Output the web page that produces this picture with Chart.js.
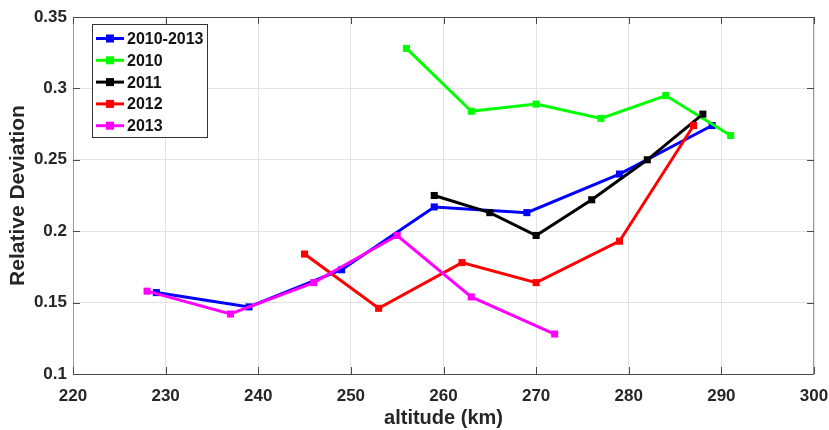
<!DOCTYPE html>
<html>
<head>
<meta charset="utf-8">
<script src="https://cdn.jsdelivr.net/npm/chart.js@4.4.1/dist/chart.umd.min.js"></script>
<style>
  html, body { margin: 0; padding: 0; background: #fff; }
  #wrap { width: 829px; height: 430px; }
</style>
</head>
<body>
<div id="wrap"><canvas id="devChart" width="829" height="430"></canvas></div>
<script>
// series names
const seriesNames = ['2010-2013', '2010', '2011', '2012', '2013'];
const seriesColors = ['#0000ff', '#00ff00', '#000000', '#ff0000', '#ff00ff'];

// altitude (km) / relative deviation per series
const allAlt = [229, 239, 249, 259, 269, 279, 289];
const allDev = [0.157, 0.147, 0.173, 0.217, 0.213, 0.240, 0.274];
const alt2010 = [256, 263, 270, 277, 284, 291];
const dev2010 = [0.328, 0.284, 0.289, 0.279, 0.295, 0.267];
const alt2011 = [259, 265, 270, 276, 282, 288];
const dev2011 = [0.225, 0.213, 0.197, 0.222, 0.250, 0.282];
const alt2012 = [245, 253, 262, 270, 279, 287];
const dev2012 = [0.184, 0.146, 0.178, 0.164, 0.193, 0.274];
const alt2013 = [228, 237, 246, 255, 263, 272];
const dev2013 = [0.158, 0.142, 0.164, 0.197, 0.154, 0.128];

// tick labels
const xTicks = [220, 230, 240, 250, 260, 270, 280, 290, 300];
const yTicks = [0.1, 0.15, 0.2, 0.25, 0.3, 0.35];
const yTickLabels = ['0.1', '0.15', '0.2', '0.25', '0.3', '0.35'];

const altSets = [allAlt, alt2010, alt2011, alt2012, alt2013];
const devSets = [allDev, dev2010, dev2011, dev2012, dev2013];

const FONT = "'Liberation Sans', Arial, sans-serif";
const AXIS = '#4a4a4a';

function makeDataset(i) {
    return {
        label: seriesNames[i],
        data: altSets[i].map((a, k) => ({ x: a, y: devSets[i][k] })),
        borderColor: seriesColors[i],
        backgroundColor: seriesColors[i],
        borderWidth: 3,
        pointStyle: 'rect',
        pointRadius: 5,
        pointBorderWidth: 0,
        tension: 0,
        order: seriesNames.length - i
    };
}

// matlab style box, inside ticks and legend
const boxPlugin = {
    id: 'boxPlugin',
    afterDraw(chart) {
        const ctx = chart.ctx;
        const a = chart.chartArea;
        const xs = chart.scales.x, ys = chart.scales.y;
        ctx.save();
        ctx.lineWidth = 1;
        ctx.strokeStyle = '#9a9a9a';
        ctx.beginPath();
        ctx.moveTo(a.left + 0.5, a.top); ctx.lineTo(a.left + 0.5, a.bottom);
        ctx.moveTo(a.right - 0.5, a.top); ctx.lineTo(a.right - 0.5, a.bottom);
        ctx.stroke();
        ctx.strokeStyle = AXIS;
        ctx.beginPath();
        ctx.moveTo(a.left, a.top + 0.5); ctx.lineTo(a.right, a.top + 0.5);
        ctx.moveTo(a.left, a.bottom + 0.5); ctx.lineTo(a.right, a.bottom + 0.5);
        xTicks.forEach(v => {
            const px = Math.round(xs.getPixelForValue(v)) + 0.5;
            ctx.moveTo(px, a.bottom); ctx.lineTo(px, a.bottom - 7);
            ctx.moveTo(px, a.top); ctx.lineTo(px, a.top + 7);
        });
        yTicks.forEach(v => {
            const py = Math.round(ys.getPixelForValue(v)) + 0.5;
            ctx.moveTo(a.left, py); ctx.lineTo(a.left + 7, py);
            ctx.moveTo(a.right, py); ctx.lineTo(a.right - 7, py);
        });
        ctx.stroke();

        // legend
        const lx = 92, ly = 24, lw = 115, lh = 113;
        ctx.fillStyle = '#ffffff';
        ctx.fillRect(lx, ly, lw, lh);
        ctx.strokeStyle = '#333333';
        ctx.strokeRect(lx + 0.5, ly + 0.5, lw, lh);
        ctx.font = 'bold 16px ' + FONT;
        ctx.textBaseline = 'middle';
        chart.data.datasets.forEach((ds, i) => {
            const y = ly + 14.5 + i * 21.8;
            ctx.strokeStyle = ds.borderColor;
            ctx.lineWidth = 3;
            ctx.beginPath();
            ctx.moveTo(lx + 4, y); ctx.lineTo(lx + 32, y);
            ctx.stroke();
            ctx.fillStyle = ds.borderColor;
            ctx.fillRect(lx + 14, y - 4, 8, 8);
            ctx.fillStyle = '#111111';
            ctx.fillText(ds.label, lx + 35, y + 1);
        });
        ctx.restore();
    }
};

const devChart = new Chart(document.getElementById('devChart').getContext('2d'), {
    type: 'line',
    data: { datasets: seriesNames.map((n, i) => makeDataset(i)) },
    options: {
        responsive: false,
        animation: false,
        layout: { padding: { left: 0, right: 0, top: 17, bottom: 0 } },
        plugins: { legend: { display: false }, tooltip: { enabled: false } },
        scales: {
            x: {
                type: 'linear',
                min: 220, max: 300,
                afterFit(s) { s.height = 56; s.paddingRight = 15; s.paddingLeft = 0; },
                afterBuildTicks(s) { s.ticks = xTicks.map(v => ({ value: v })); },
                grid: { color: '#e3e3e3', drawTicks: false },
                border: { display: false },
                ticks: {
                    padding: 12,
                    maxRotation: 0,
                    color: '#262626',
                    font: { family: FONT, size: 17, weight: 'bold' }
                },
                title: {
                    display: true,
                    text: 'altitude (km)',
                    color: '#262626',
                    padding: { top: 0, bottom: 0 },
                    font: { family: FONT, size: 20, weight: 'bold' }
                }
            },
            y: {
                min: 0.1, max: 0.35,
                afterFit(s) { s.width = 73; },
                afterBuildTicks(s) { s.ticks = yTicks.map(v => ({ value: v })); },
                grid: { color: '#e3e3e3', drawTicks: false },
                border: { display: false },
                ticks: {
                    padding: 6,
                    color: '#262626',
                    font: { family: FONT, size: 17, weight: 'bold' },
                    callback: (v) => yTickLabels[yTicks.indexOf(v)]
                },
                title: {
                    display: true,
                    text: 'Relative Deviation',
                    color: '#262626',
                    padding: { top: 6, bottom: 0 },
                    font: { family: FONT, size: 21, weight: 'bold' }
                }
            }
        }
    },
    plugins: [boxPlugin]
});
</script>
</body>
</html>
